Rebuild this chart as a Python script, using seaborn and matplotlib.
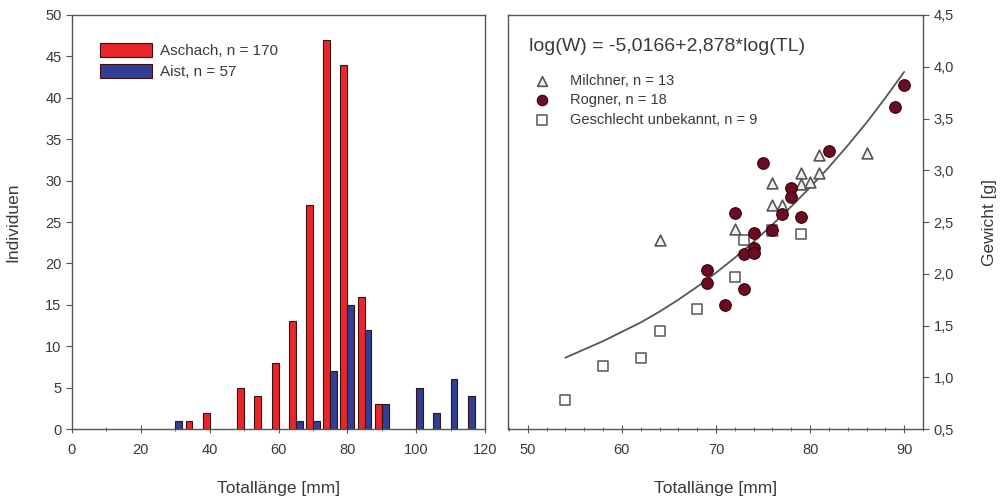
import matplotlib
matplotlib.use("Agg")
import matplotlib.pyplot as plt
import seaborn as sns
import pandas as pd
from matplotlib.ticker import MultipleLocator

# ---------------- data ----------------
aschach_len = [35, 40, 50, 55, 60, 65, 70, 75, 80, 85, 90]
aschach_n = [1, 2, 5, 4, 8, 13, 27, 47, 44, 16, 3]
aist_len = [30, 65, 70, 75, 80, 85, 90, 100, 105, 110, 115]
aist_n = [1, 1, 1, 7, 15, 12, 3, 5, 2, 6, 4]
site_labels = ["Aschach, n = 170", "Aist, n = 57"]

milchner_tl = [64, 86, 81, 79, 81, 79, 80, 76, 76, 77, 72, 76, 74]
milchner_w = [2.33, 3.17, 3.15, 2.97, 2.97, 2.87, 2.89, 2.88, 2.66, 2.66, 2.43, 2.42, 2.25]
rogner_tl = [75, 82, 90, 89, 78, 78, 77, 72, 79, 76, 74, 74, 73, 74, 69, 69, 73, 71]
rogner_w = [3.07, 3.19, 3.82, 3.61, 2.83, 2.74, 2.58, 2.59, 2.55, 2.42, 2.39, 2.25, 2.19, 2.20,
            2.04, 1.91, 1.85, 1.70]
unbek_tl = [54, 58, 62, 64, 68, 72, 73, 79, 76]
unbek_w = [0.78, 1.11, 1.19, 1.45, 1.66, 1.97, 2.33, 2.38, 2.42]

fit_tl = [54, 56, 58, 60, 62, 64, 66, 68, 70, 72, 74, 76, 78, 80, 82, 84, 86, 88, 90]
fit_w = [1.19, 1.27, 1.35, 1.44, 1.53, 1.635, 1.75, 1.875, 2.01, 2.155, 2.31, 2.475, 2.65,
         2.835, 3.03, 3.24, 3.46, 3.70, 3.95]

group_labels = ["Milchner, n = 13", "Rogner, n = 18", "Geschlecht unbekannt, n = 9"]
equation = "log(W) = -5,0166+2,878*log(TL)"

left_yticks = [0, 5, 10, 15, 20, 25, 30, 35, 40, 45, 50]
right_yticks = [0.5, 1.0, 1.5, 2.0, 2.5, 3.0, 3.5, 4.0, 4.5]
right_yticklabels = ["0,5", "1,0", "1,5", "2,0", "2,5", "3,0", "3,5", "4,0", "4,5"]

# ---------------- style ----------------
sns.set_style("ticks")
plt.rcParams["font.family"] = ["Liberation Sans", "DejaVu Sans"]
txt = "#3a3a3a"
plt.rcParams["text.color"] = txt
plt.rcParams["axes.labelcolor"] = txt
plt.rcParams["xtick.color"] = "#555555"
plt.rcParams["ytick.color"] = "#555555"
plt.rcParams["xtick.labelcolor"] = txt
plt.rcParams["ytick.labelcolor"] = txt
plt.rcParams["axes.edgecolor"] = "#555555"

fig = plt.figure(figsize=(10, 4.99), dpi=100)
ax1 = fig.add_axes([0.072, 0.140, 0.413, 0.830])
ax2 = fig.add_axes([0.508, 0.140, 0.415, 0.830])

# ---------------- histogram ----------------
df = pd.concat([
    pd.DataFrame({"len": aschach_len, "n": aschach_n, "site": site_labels[0]}),
    pd.DataFrame({"len": aist_len, "n": aist_n, "site": site_labels[1]}),
])
sns.barplot(data=df, x="len", y="n", hue="site", hue_order=site_labels,
            palette=["#e8272b", "#2f3f96"], saturation=1, native_scale=True, dodge=True,
            errorbar=None, width=0.8, edgecolor="#3a1010", linewidth=0.8, ax=ax1)
ax1.set_xlim(0, 120)
ax1.set_ylim(0, 50)
ax1.xaxis.set_major_locator(MultipleLocator(20))
ax1.xaxis.set_minor_locator(MultipleLocator(10))
ax1.set_yticks(left_yticks)
ax1.tick_params(axis="x", which="major", direction="inout", length=6, labelsize=10.5, pad=7)
ax1.tick_params(axis="x", which="minor", direction="inout", length=3)
ax1.tick_params(axis="y", direction="out", length=4, labelsize=10.5)
ax1.set_xlabel("Totallänge [mm]", fontsize=12.5, labelpad=17)
ax1.set_ylabel("Individuen", fontsize=12.5, labelpad=18)
for s in ax1.spines.values():
    s.set_visible(True)
    s.set_linewidth(1.0)
ax1.legend(loc="upper left", bbox_to_anchor=(0.035, 0.965), frameon=False,
           fontsize=11, handlelength=3.4, handleheight=1.0, labelspacing=0.4,
           handletextpad=0.5, title=None)

# ---------------- scatter ----------------
sns.lineplot(x=fit_tl, y=fit_w, color="#555555", linewidth=1.3, ax=ax2, legend=False)
sns.scatterplot(x=milchner_tl, y=milchner_w, marker="^", s=60, facecolor="#f0f0f0",
                edgecolor="#555555", linewidth=1.2, label=group_labels[0], ax=ax2, zorder=3)
sns.scatterplot(x=rogner_tl, y=rogner_w, marker="o", s=70, color="#6a0d22",
                edgecolor="#3a0010", linewidth=0.8, label=group_labels[1], ax=ax2, zorder=4)
sns.scatterplot(x=unbek_tl, y=unbek_w, marker="s", s=55, facecolor="white",
                edgecolor="#555555", linewidth=1.1, label=group_labels[2], ax=ax2, zorder=2)
ax2.set_xlim(47.9, 92.0)
ax2.set_ylim(0.5, 4.5)
ax2.xaxis.set_major_locator(MultipleLocator(10))
ax2.xaxis.set_minor_locator(MultipleLocator(2))
ax2.yaxis.tick_right()
ax2.yaxis.set_label_position("right")
ax2.set_yticks(right_yticks)
ax2.set_yticklabels(right_yticklabels)
ax2.tick_params(axis="x", which="major", direction="inout", length=6, labelsize=10.5, pad=7)
ax2.tick_params(axis="x", which="minor", direction="inout", length=3)
ax2.tick_params(axis="y", direction="out", length=4, labelsize=10.5)
ax2.set_xlabel("Totallänge [mm]", fontsize=12.5, labelpad=17)
ax2.set_ylabel("Gewicht [g]", fontsize=12.5, labelpad=20)
for s in ax2.spines.values():
    s.set_visible(True)
    s.set_linewidth(1.0)
ax2.text(0.05, 0.925, equation, transform=ax2.transAxes, fontsize=14, color=txt,
         ha="left", va="center")
ax2.legend(loc="upper left", bbox_to_anchor=(0.03, 0.89), frameon=False, fontsize=10.5,
           handlelength=1.2, labelspacing=0.38, handletextpad=1.3, markerscale=0.9)

fig.savefig("out.png", dpi=100)
